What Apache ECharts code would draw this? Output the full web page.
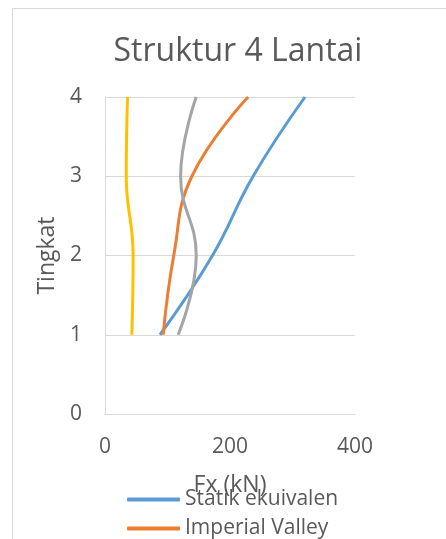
<!DOCTYPE html>
<html><head><meta charset="utf-8">
<script src="https://cdn.jsdelivr.net/npm/echarts@6/dist/echarts.min.js"></script>
<style>html,body{margin:0;padding:0;background:#fff}#c{width:446px;height:539px}</style>
</head><body><div id="c"></div>
<script>
const levels = [1, 2, 3, 4];
const statikEkuivalen = [88, 172, 237, 320];
const imperialValley = [93, 110, 139, 229];
const series3 = [117, 146, 121, 146];
const series4 = [43, 45, 34, 36];
const xTicks = [0, 200, 400];
const yTicks = [0, 1, 2, 3, 4];

const pair = (xs) => xs.map((v, i) => [v, levels[i]]);
const chart = echarts.init(document.getElementById('c'), null, {renderer: 'canvas'});
const font = '"Open Sans", "Liberation Sans", sans-serif';
const mk = (name, data, color) => ({
  name, type: 'line', data: pair(data), smooth: 0.45, symbol: 'none',
  lineStyle: {width: 3, color}, itemStyle: {color}
});
chart.setOption({
  animation: false,
  graphic: [{type: 'rect', shape: {x: 12.5, y: 8.5, width: 600, height: 700},
    style: {fill: 'none', stroke: '#d9d9d9', lineWidth: 1}, silent: true}],
  title: {text: 'Struktur 4 Lantai', left: 233, top: 31, textAlign: 'center',
    textStyle: {fontFamily: font, fontSize: 32, fontWeight: 'normal', color: '#595959'}},
  grid: {left: 105, right: 91, top: 97, bottom: 125},
  xAxis: {type: 'value', min: xTicks[0], max: xTicks[xTicks.length - 1], interval: 200,
    name: 'Fx (kN)', nameLocation: 'middle', nameGap: 60,
    nameTextStyle: {fontFamily: font, fontSize: 23, color: '#595959'},
    axisLine: {show: true, lineStyle: {color: '#d9d9d9', width: 1}},
    axisTick: {show: false}, splitLine: {show: false},
    axisLabel: {fontFamily: font, fontSize: 21, color: '#595959', margin: 23}},
  yAxis: {type: 'value', min: yTicks[0], max: yTicks[yTicks.length - 1], interval: 1,
    name: 'Tingkat', nameLocation: 'middle', nameGap: 43, nameRotate: 90,
    nameTextStyle: {fontFamily: font, fontSize: 23, color: '#595959'},
    axisLine: {show: true, lineStyle: {color: '#d9d9d9', width: 1}},
    axisTick: {show: false},
    splitLine: {show: true, lineStyle: {color: '#d9d9d9', width: 1}},
    axisLabel: {fontFamily: font, fontSize: 21, color: '#595959', margin: 23}},
  legend: {data: ['Statik ekuivalen', 'Imperial Valley'], orient: 'vertical',
    left: 127, top: 489, height: 300, itemWidth: 53, itemHeight: 4, itemGap: 8,
    icon: 'roundRect', padding: 0,
    textStyle: {fontFamily: font, fontSize: 21, lineHeight: 21, color: '#595959'}},
  series: [
    mk('Statik ekuivalen', statikEkuivalen, '#5B9BD5'),
    mk('Imperial Valley', imperialValley, '#ED7D31'),
    mk('Series 3', series3, '#A5A5A5'),
    mk('Series 4', series4, '#FFC000')
  ]
});
</script></body></html>
